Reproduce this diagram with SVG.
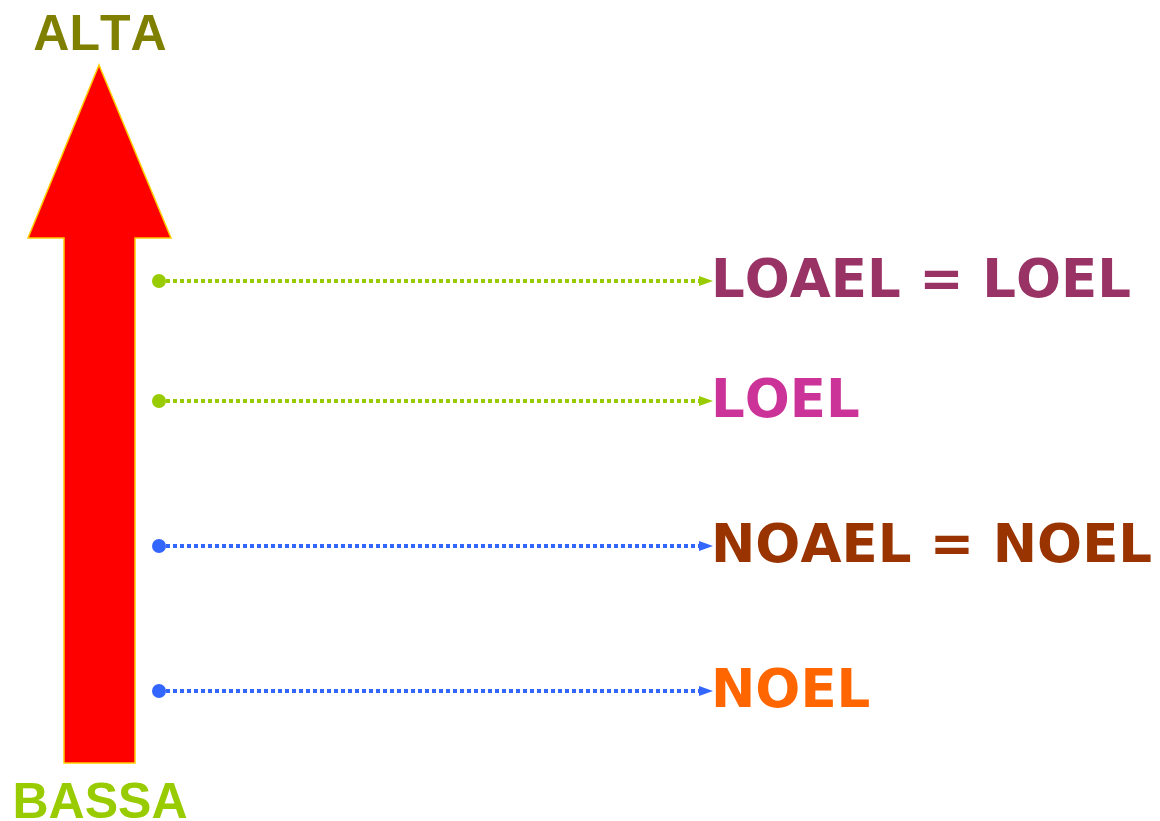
<svg xmlns="http://www.w3.org/2000/svg" width="1160" height="821" viewBox="0 0 1160 821">
<style>
.lbl{font-family:"Liberation Sans",Arial,sans-serif;font-weight:bold;font-size:50px;text-anchor:middle;font-kerning:none}
.big{font-family:"DejaVu Sans",Verdana,sans-serif;font-weight:bold;font-size:53px;font-kerning:none}
.ln{stroke-width:4;stroke-dasharray:4 3;fill:none}
</style>
<g id="scale-arrow">
<path d="M99,65 L171,238 L135,238 L135,763 L64,763 L64,238 L28,238 Z" fill="#FF0000" stroke="#FFCC00" stroke-width="1.5"/>
</g>
<g id="alta"><text class="lbl" x="100" y="50" fill="#808000">ALTA</text></g>
<g id="bassa"><text class="lbl" x="100" y="818" fill="#99CC00">BASSA</text></g>
<g id="connectors">
<circle cx="159" cy="281" r="7" fill="#99CC00"/>
<path class="ln" stroke="#99CC00" d="M166,281 H700"/><path d="M699,276 L713,281 L699,286 Z" fill="#99CC00"/>
<circle cx="159" cy="401" r="7" fill="#99CC00"/>
<path class="ln" stroke="#99CC00" d="M166,401 H700"/><path d="M699,396 L713,401 L699,406 Z" fill="#99CC00"/>
<circle cx="159" cy="546" r="7" fill="#3366FF"/>
<path class="ln" stroke="#3366FF" d="M166,546 H700"/><path d="M699,541 L713,546 L699,551 Z" fill="#3366FF"/>
<circle cx="159" cy="691" r="7" fill="#3366FF"/>
<path class="ln" stroke="#3366FF" d="M166,691 H700"/><path d="M699,686 L713,691 L699,696 Z" fill="#3366FF"/>
</g>
<g id="loael"><text class="big" x="711" y="297" fill="#993366">LOAEL = LOEL</text></g>
<g id="loel"><text class="big" x="711" y="417" fill="#CC3399">LOEL</text></g>
<g id="noael"><text class="big" x="711" y="562" fill="#993300">NOAEL = NOEL</text></g>
<g id="noel"><text class="big" x="711" y="707" fill="#FF6600">NOEL</text></g>
</svg>
